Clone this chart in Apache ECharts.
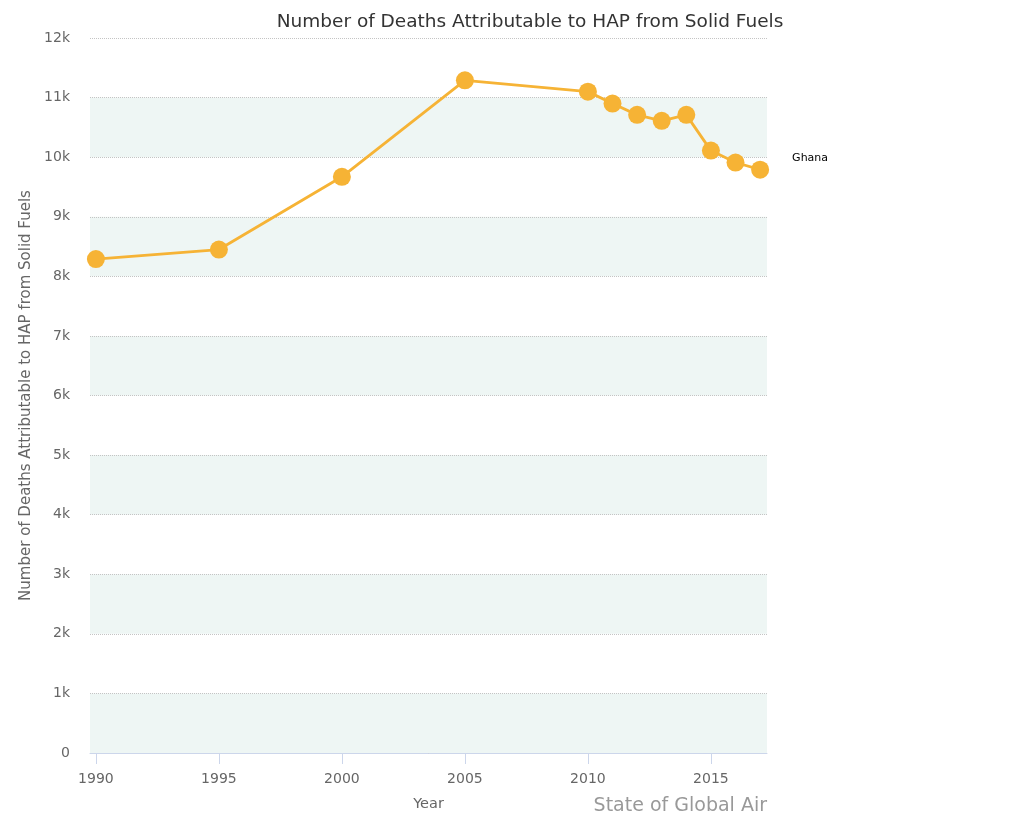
<!DOCTYPE html>
<html>
<head>
<meta charset="utf-8">
<title>Number of Deaths Attributable to HAP from Solid Fuels</title>
<script src="https://cdn.jsdelivr.net/npm/echarts@6/dist/echarts.min.js"></script>
<style>
  html, body { margin: 0; padding: 0; background: #fff; }
  #main { width: 1024px; height: 832px; }
</style>
</head>
<body>
<div id="main"></div>
<script>
// values
const years = [1990, 1995, 2000, 2005, 2010, 2011, 2012, 2013, 2014, 2015, 2016, 2017];
const deaths = [8290, 8450, 9670, 11290, 11100, 10900, 10710, 10610, 10710, 10110, 9910, 9790];
const yearTicks = [1990, 1995, 2000, 2005, 2010, 2015];
const countryName = 'Ghana';

const chart = echarts.init(document.getElementById('main'));
const font = 'DejaVu Sans, Verdana, sans-serif';

const option = {
  animation: false,
  textStyle: { fontFamily: font },
  title: {
    text: 'Number of Deaths Attributable to HAP from Solid Fuels',
    left: 525,
    textAlign: 'center',
    top: 8,
    textStyle: { fontSize: 18.5, fontWeight: 'normal', color: '#333', fontFamily: font }
  },
  grid: { left: 90, right: 257, top: 38, bottom: 79 },
  xAxis: {
    type: 'value',
    min: 1989.76,
    max: 2017.28,
    name: 'Year',
    nameLocation: 'middle',
    nameGap: 44,
    nameTextStyle: { color: '#666', fontSize: 14.5 },
    axisLine: { lineStyle: { color: '#ccd6eb', width: 1 } },
    axisTick: { show: true, length: 11, customValues: yearTicks, lineStyle: { color: '#ccd6eb' } },
    axisLabel: {
      customValues: yearTicks,
      color: '#666',
      fontSize: 14,
      margin: 19,
      formatter: v => String(v)
    },
    splitLine: { show: false }
  },
  yAxis: {
    type: 'value',
    min: 0,
    max: 12000,
    interval: 1000,
    name: 'Number of Deaths Attributable to HAP from Solid Fuels',
    nameLocation: 'middle',
    nameGap: 56,
    nameTextStyle: { color: '#666', fontSize: 15 },
    axisLine: { show: false },
    axisTick: { show: false },
    axisLabel: {
      color: '#666',
      fontSize: 14,
      margin: 20,
      formatter: v => v === 0 ? '0' : (v / 1000) + 'k'
    },
    splitLine: { show: true, lineStyle: { color: '#c4c4c4', type: [1, 1], width: 1 } },
    splitArea: { show: true, areaStyle: { color: ['#eef6f4', 'rgba(255,255,255,0)'] } }
  },
  series: [{
    name: countryName,
    type: 'line',
    data: years.map((y, i) => [y, deaths[i]]),
    symbol: 'circle',
    symbolSize: 18,
    itemStyle: { color: '#f6b335' },
    lineStyle: { color: '#f6b335', width: 2.8 },
    endLabel: {
      show: true,
      formatter: countryName,
      color: '#000',
      fontSize: 11,
      offset: [24, -12]
    }
  }],
  graphic: [{
    type: 'text',
    right: 257,
    top: 797,
    style: { text: 'State of Global Air', fill: '#999', fontSize: 19, fontFamily: font }
  }]
};

chart.setOption(option);
</script>
</body>
</html>
